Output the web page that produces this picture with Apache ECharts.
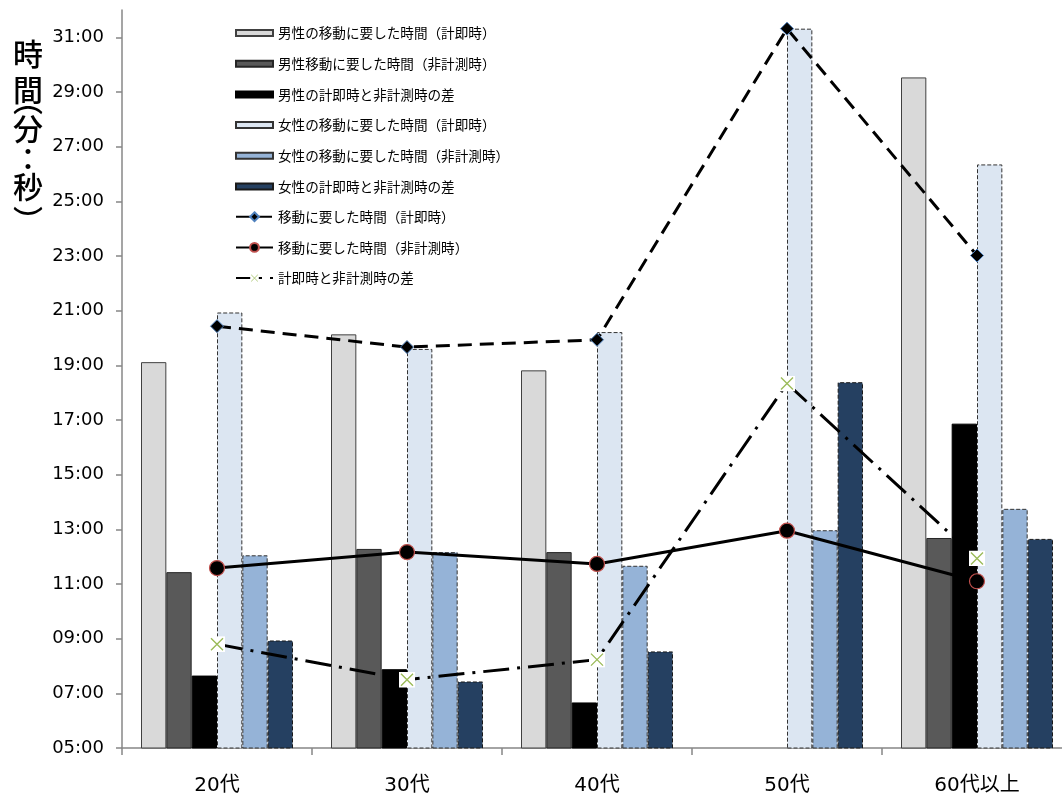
<!DOCTYPE html>
<html>
<head>
<meta charset="utf-8">
<script src="https://cdn.jsdelivr.net/npm/echarts@6/dist/echarts.min.js"></script>
<style>
  html, body { margin: 0; padding: 0; background: #fff; }
  #chart { width: 1062px; height: 801px; }
</style>
</head>
<body>
<div id="chart"></div>
<script>
// Age groups on the category axis
const ageGroups = ['20代', '30代', '40代', '50代', '60代以上'];

// Travel times (mm:ss); null = no data
const maleMeasured     = ['19:07', '20:08', '18:49', null,    '29:32'];
const maleUnmeasured   = ['11:26', '12:17', '12:10', null,    '12:41'];
const maleDiff         = ['07:39', '07:53', '06:40', null,    '16:52'];
const femaleMeasured   = ['20:56', '19:36', '20:13', '31:19', '26:21'];
const femaleUnmeasured = ['12:03', '12:10', '11:40', '12:58', '13:45'];
const femaleDiff       = ['08:56', '07:26', '08:32', '18:23', '12:39'];
const totalMeasured    = ['20:26', '19:40', '19:56', '31:19', '23:01'];
const totalUnmeasured  = ['11:35', '12:10', '11:44', '12:57', '11:06'];
const totalDiff        = ['08:48', '07:30', '08:14', '18:20', '11:56'];

// Tick marks / labels on the time axis (minutes)
const timeTicks = [5, 7, 9, 11, 13, 15, 17, 19, 21, 23, 25, 27, 29, 31];

// "mm:ss" -> minutes
function toMinutes(s) {
  if (s == null) return null;
  const p = s.split(':');
  return Number(p[0]) + Number(p[1]) / 60;
}

const JP = '"Noto Sans CJK JP", "Noto Sans", sans-serif';
const NUM = '"DejaVu Sans", "Noto Sans CJK JP", sans-serif';

// Cross marker with a white backing square
const crossIcon = 'image://data:image/svg+xml;utf8,' + encodeURIComponent(
  '<svg xmlns="http://www.w3.org/2000/svg" width="16" height="16" viewBox="0 0 16 16">' +
  '<rect x="0" y="0" width="16" height="16" fill="#ffffff"/>' +
  '<path d="M2,2 L14,14 M14,2 L2,14" stroke="#9bbb59" stroke-width="1.4" fill="none"/></svg>'
);

function barSeries(name, data, itemStyle) {
  return {
    name: name,
    type: 'bar',
    data: data.map(toMinutes),
    barGap: '0%',
    barCategoryGap: '20%',
    itemStyle: itemStyle,
    z: 2
  };
}

// Vertical axis title, one glyph per element (top of each glyph box)
function titleGlyph(ch, top) {
  return {
    type: 'text',
    x: 28,
    y: top,
    style: { text: ch, fontFamily: JP, fontSize: 30, fontWeight: 500, fill: '#000', align: 'center', verticalAlign: 'top' }
  };
}

const chart = echarts.init(document.getElementById('chart'), null, { renderer: 'canvas' });

const option = {
  animation: false,
  backgroundColor: '#ffffff',
  grid: { left: 122, width: 950, top: 10, bottom: 53, containLabel: false, outerBoundsMode: 'none' },
  legend: [
    {
      orient: 'vertical',
      left: 235,
      top: 25,
      padding: 0,
      itemWidth: 37,
      itemHeight: 6,
      itemGap: 14.7,
      icon: 'rect',
      textStyle: { fontFamily: JP, fontSize: 13.6, color: '#000', lineHeight: 16 },
      data: [
        '男性の移動に要した時間（計即時）',
        '男性移動に要した時間（非計測時）',
        '男性の計即時と非計測時の差',
        '女性の移動に要した時間（計即時）',
        '女性の移動に要した時間（非計測時）',
        '女性の計即時と非計測時の差'
      ]
    },
    {
      orient: 'vertical',
      left: 235,
      top: 208.7,
      padding: 0,
      itemWidth: 37,
      itemHeight: 11,
      itemGap: 14.7,
      textStyle: { fontFamily: JP, fontSize: 13.6, color: '#000', lineHeight: 16 },
      data: [
        '移動に要した時間（計即時）',
        '移動に要した時間（非計測時）',
        '計即時と非計測時の差'
      ]
    }
  ],
  xAxis: {
    type: 'category',
    data: ageGroups,
    axisLine: { lineStyle: { color: '#878787', width: 1.5 } },
    axisTick: { show: true, length: 7, alignWithLabel: false, lineStyle: { color: '#878787', width: 1.5 } },
    axisLabel: { color: '#000', fontFamily: NUM, fontSize: 20, margin: 28 },
    splitLine: { show: false }
  },
  yAxis: {
    type: 'value',
    min: 5,
    max: 32,
    axisLine: { show: true, lineStyle: { color: '#878787', width: 1.5 } },
    axisTick: { show: true, length: 6, customValues: timeTicks, lineStyle: { color: '#878787', width: 1.5 } },
    axisLabel: {
      customValues: timeTicks,
      color: '#000',
      fontFamily: NUM,
      fontSize: 18,
      margin: 18,
      formatter: function (v) { return String(v).padStart(2, '0') + ':00'; }
    },
    splitLine: { show: false }
  },
  graphic: [
    titleGlyph('時', 39),
    titleGlyph('間', 75),
    titleGlyph('︵', 85),
    titleGlyph('分', 114),
    titleGlyph('：', 144),
    titleGlyph('秒', 172),
    titleGlyph('︶', 206)
  ],
  series: [
    barSeries('男性の移動に要した時間（計即時）', maleMeasured,
      { color: '#d9d9d9', borderColor: '#404040', borderWidth: 1 }),
    barSeries('男性移動に要した時間（非計測時）', maleUnmeasured,
      { color: '#595959', borderColor: '#262626', borderWidth: 1 }),
    barSeries('男性の計即時と非計測時の差', maleDiff,
      { color: '#000000', borderColor: '#000000', borderWidth: 1 }),
    barSeries('女性の移動に要した時間（計即時）', femaleMeasured,
      { color: '#dce6f2', borderColor: '#333333', borderWidth: 1, borderType: [4, 2] }),
    barSeries('女性の移動に要した時間（非計測時）', femaleUnmeasured,
      { color: '#95b3d7', borderColor: '#333333', borderWidth: 1, borderType: [4, 2] }),
    barSeries('女性の計即時と非計測時の差', femaleDiff,
      { color: '#254061', borderColor: '#1a1a1a', borderWidth: 1, borderType: [4, 2] }),
    {
      name: '移動に要した時間（計即時）',
      type: 'line',
      data: totalMeasured.map(toMinutes),
      symbol: 'diamond',
      symbolSize: 13,
      lineStyle: { color: '#000', width: 3, type: [14, 8] },
      itemStyle: { color: '#000', borderColor: '#4f81bd', borderWidth: 1 },
      z: 5
    },
    {
      name: '移動に要した時間（非計測時）',
      type: 'line',
      data: totalUnmeasured.map(toMinutes),
      symbol: 'circle',
      symbolSize: 15,
      lineStyle: { color: '#000', width: 3, type: 'solid' },
      itemStyle: { color: '#000', borderColor: '#c0504d', borderWidth: 1.2 },
      z: 5
    },
    {
      name: '計即時と非計測時の差',
      type: 'line',
      data: totalDiff.map(toMinutes),
      symbol: crossIcon,
      symbolSize: 16,
      lineStyle: { color: '#000', width: 3, type: [26, 8, 3, 8] },
      itemStyle: { color: '#9bbb59' },
      z: 5
    }
  ]
};

chart.setOption(option);
</script>
</body>
</html>
